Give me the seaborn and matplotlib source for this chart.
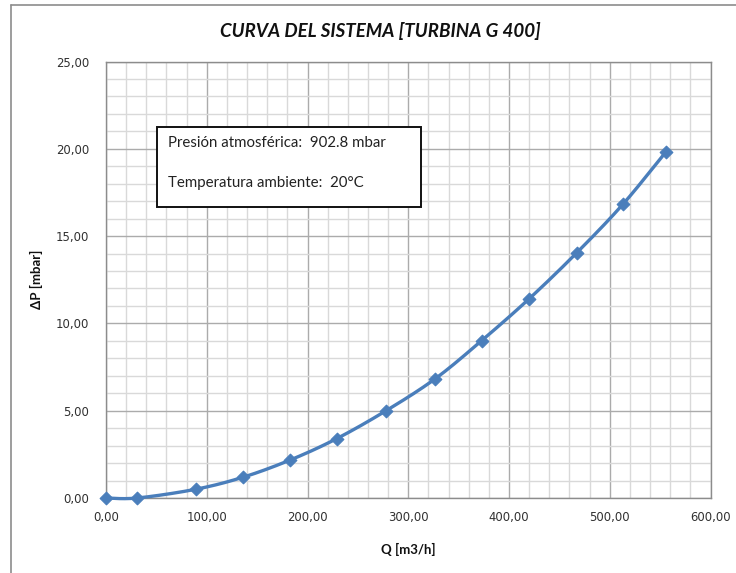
import numpy as np
import pandas as pd
import matplotlib
matplotlib.use("Agg")
import matplotlib.pyplot as plt
import seaborn as sns
from matplotlib.ticker import MultipleLocator, FuncFormatter
from matplotlib.lines import Line2D
from matplotlib.patches import Rectangle

# ---- data ----
caudal_q = [0, 31, 89, 136, 183, 229, 278, 327, 373, 420, 467, 513, 556]
delta_p = [0.0, 0.0, 0.5, 1.19, 2.18, 3.40, 5.0, 6.84, 9.02, 11.41, 14.03, 16.82, 19.84]
title_text = "CURVA DEL SISTEMA [TURBINA G 400]"
xlabel_text = "Q [m3/h]"
ylabel_text = "ΔP [mbar]"
box_lines = ["Presión atmosférica:  902.8 mbar", "Temperatura ambiente:  20°C"]

sns.set_theme(style="white")
plt.rcParams['font.family'] = ['Lato', 'DejaVu Sans']

W, H = 736, 573
fig = plt.figure(figsize=(W / 100, H / 100), dpi=100)
fig.patch.set_facecolor("white")

L, T, R, B = 106, 61.5, 710.5, 498
ax = fig.add_axes([L / W, (H - B) / H, (R - L) / W, (B - T) / H])
ax.set_facecolor("white")


def catmull_rom(xs, ys, n=20):
    xs = np.asarray(xs, float)
    ys = np.asarray(ys, float)
    px = np.concatenate([[xs[0]], xs, [2 * xs[-1] - xs[-2]]])
    py = np.concatenate([[ys[0]], ys, [2 * ys[-1] - ys[-2]]])
    ox, oy = [], []
    for i in range(1, len(px) - 2):
        t = np.linspace(0, 1, n, endpoint=False)
        for arr, out in ((px, ox), (py, oy)):
            p0, p1, p2, p3 = arr[i - 1], arr[i], arr[i + 1], arr[i + 2]
            out.extend(0.5 * ((2 * p1) + (-p0 + p2) * t
                              + (2 * p0 - 5 * p1 + 4 * p2 - p3) * t ** 2
                              + (-p0 + 3 * p1 - 3 * p2 + p3) * t ** 3))
    ox.append(xs[-1])
    oy.append(ys[-1])
    return np.array(ox), np.array(oy)


sx, sy = catmull_rom(caudal_q, delta_p)
smooth = pd.DataFrame({"Q": sx, "DP": sy})
pts = pd.DataFrame({"Q": caudal_q, "DP": delta_p})

blue = "#4A7EBB"
sns.lineplot(data=smooth, x="Q", y="DP", ax=ax, color=blue, lw=2.4, sort=False,
             zorder=4, clip_on=False)
sns.scatterplot(data=pts, x="Q", y="DP", ax=ax, color=blue, marker="D", s=42,
                edgecolor=blue, linewidth=0.8, zorder=5, clip_on=False)

ax.set_xlim(0, 600)
ax.set_ylim(0, 25)
ax.xaxis.set_major_locator(MultipleLocator(100))
ax.xaxis.set_minor_locator(MultipleLocator(20))
ax.yaxis.set_major_locator(MultipleLocator(5))
ax.yaxis.set_minor_locator(MultipleLocator(1))
fmt = FuncFormatter(lambda v, p: f"{v:.2f}".replace(".", ","))
ax.xaxis.set_major_formatter(fmt)
ax.yaxis.set_major_formatter(fmt)

ax.grid(which="minor", color="#D9D9D9", lw=1.0, zorder=0)
ax.grid(which="major", color="#ABABAB", lw=1.0, zorder=1)
ax.set_axisbelow(True)
for s in ax.spines.values():
    s.set_color("#8C8C8C")
    s.set_linewidth(1.0)

ax.tick_params(axis="both", which="both", length=0, labelsize=8.4, labelcolor="#303030")
for lab in ax.get_xticklabels() + ax.get_yticklabels():
    lab.set_family("DejaVu Sans")
ax.tick_params(axis="x", pad=9)
ax.tick_params(axis="y", pad=12)

ax.set_xlabel(xlabel_text, fontsize=9.5, fontweight="bold", color="#111111", labelpad=14)
ax.set_ylabel(ylabel_text, fontsize=9.5, fontweight="bold", color="#111111", labelpad=9)

fig.text(380 / W, 1 - 31 / H, title_text, ha="center", va="center",
         fontsize=13.5, fontweight="bold", fontstyle="italic", color="#111111")

# chart-area border
fig.add_artist(Line2D([11 / W, 1], [1 - 5 / H, 1 - 5 / H], color="#8C8C8C", lw=1.2))
fig.add_artist(Line2D([11 / W, 11 / W], [0, 1 - 5 / H], color="#8C8C8C", lw=1.2))

# info box
bx0, by0, bx1, by1 = 157.3, 127.3, 420.7, 207.3
fig.add_artist(Rectangle((bx0 / W, 1 - by1 / H), (bx1 - bx0) / W, (by1 - by0) / H,
                         facecolor="white", edgecolor="#111111", lw=1.4, zorder=3))
for yy, txt in zip([143, 183], box_lines):
    fig.text(168 / W, 1 - yy / H, txt, ha="left", va="center", fontsize=10.8,
             color="#222222", zorder=4)

fig.savefig("out.png", dpi=100)
